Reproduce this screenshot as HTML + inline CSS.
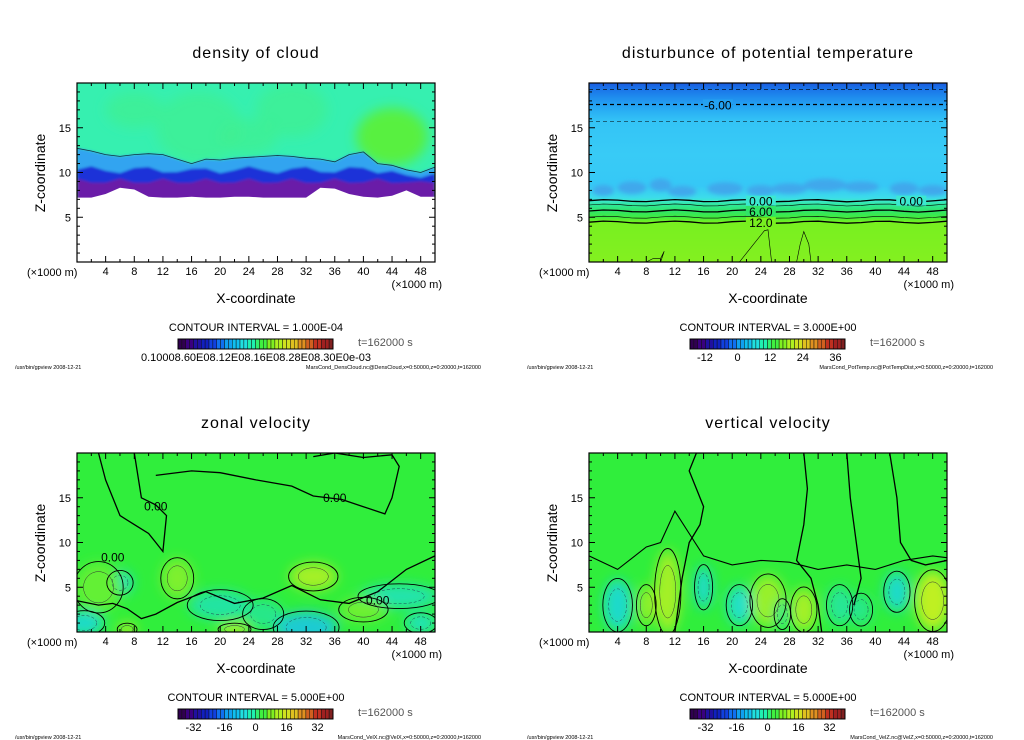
<!DOCTYPE html>
<html><head><meta charset="utf-8"><style>
html,body{margin:0;padding:0;background:#fff;}
svg{display:block;font-family:"Liberation Sans","DejaVu Sans",sans-serif;}
</style></head><body>
<svg id="root" width="1024" height="740" viewBox="0 0 1024 740" xmlns="http://www.w3.org/2000/svg">
<defs>
<filter id="blur2" x="-20%" y="-20%" width="140%" height="140%"><feGaussianBlur stdDeviation="2"/></filter>
<filter id="blur1" x="-20%" y="-20%" width="140%" height="140%"><feGaussianBlur stdDeviation="1.2"/></filter>
<filter id="blur5" x="-30%" y="-30%" width="160%" height="160%"><feGaussianBlur stdDeviation="6"/></filter>
</defs>
</svg>
<script>
// ---------- data ----------
const xTicks = [4,8,12,16,20,24,28,32,36,40,44,48];
const zTicks = [5,10,15];
const xMinor = [2,6,10,14,18,22,26,30,34,38,42,46];
const zMinor = [1,2,3,4,6,7,8,9,11,12,13,14,16,17,18,19];
const titles = ["density of cloud","disturbunce of potential temperature","zonal velocity","vertical velocity"];
const intervals = ["1.000E-04","3.000E+00","5.000E+00","5.000E+00"];
const fileTags = ["MarsCond_DensCloud.nc@DensCloud","MarsCond_PotTemp.nc@PotTempDist","MarsCond_VelX.nc@VelX","MarsCond_VelZ.nc@VelZ"];
const cbLabelsTemp = [-12,0,12,24,36];
const cbLabelsVel = [-32,-16,0,16,32];
// cloud
const cloudX = [0,2,4,6,8,10,12,14,16,18,20,22,24,26,28,30,32,34,36,38,40,42,44,46,48,50];
const cloudBase = [7.2,7.2,7.6,8.3,8.1,7.3,7.2,7.2,7.3,7.2,7.2,7.3,7.3,7.2,7.2,7.2,7.2,8.3,8.2,7.6,7.3,7.2,7.4,8.0,7.3,7.3];
const cloudTop = [12.7,12.4,12.0,11.8,12.0,12.1,12.0,11.5,11.0,11.5,11.4,11.6,11.7,11.8,11.9,11.8,11.6,11.5,11.2,12.0,12.3,11.0,10.8,10.3,10.0,10.6];
// temperature bands
const tempZ = [20,19.3,17.6,15.7,12,8.5,7.2,6.85,6.37,5.7,5.0,4.45,0];
const tempV = [-9,-8,-6,-4,-3,-3.5,-1,0,3,6,9,12,14];
const tempLineZ = [19.3,17.6,15.7,6.85,6.37,5.7,5.0,4.45];
const tempLineNeg = [1,1,1,0,0,0,0,0];
const tempLineBold = [0,1,0,1,0,1,0,1];
// zonal velocity blobs [x,z,rx,rz,value]
const uBlobX = [32,33,14,6,1,45,20,48,22,7,3,26,40];
const uBlobZ = [0.5,6.2,6,5.5,1,4,3,1,0.3,0.3,5,2,2.5];
const uBlobRx = [4,3,2,1.6,2.5,5,4,2,2,1.2,3,2.5,3];
const uBlobRz = [1.6,1.4,2,1.2,1.2,1.2,1.5,1,0.6,0.6,2.5,1.5,1.2];
const uBlobV = [-14,9,6,-12,-12,-9,-8,-10,10,10,4,-6,5];
// vertical velocity blobs
const wBlobX = [4,11,8,16,21,25,30,35,43,48,38,27];
const wBlobZ = [3,4.5,3,5,3,3.5,2.5,3,4.5,3.5,2.5,2];
const wBlobRx = [1.8,1.6,1.2,1.1,1.6,2.2,1.6,1.6,1.6,2.2,1.4,1];
const wBlobRz = [2.6,4.2,2,2.2,2,2.6,2.2,2,2,3,1.6,1.5];
const wBlobV = [-12,9,7,-12,-11,8,9,-7,-12,11,-6,-5];
// contour polylines (x km, z km)
const uZeroX = [11,16,20,25,30,33,37,40,43,44,45,44,40,36,33];
const uZeroZ = [17.5,18,17.8,17,16.3,15.2,14.8,14,13.2,15,18.5,19.8,19.5,20,19.6];
const uLowX = [0,3,5,7,9,11,14,18,22,26,30,34,38,42,46,50];
const uLowZ = [3.5,3,3.2,2.6,1.5,2,3.3,4.5,3.2,3.8,5.2,3.6,3.2,4.5,7,8.5];
const wLineX = [[30,30.5,30,29,31,32,32.5],[12,13,14,15.5,16,15,14,15,16.5,18],[36,36.5,37,37.5,38,37],[42,43,43.5,45,47,50]];
const wLineZ = [[20,16,12,8,6,3,0],[0,6,10,12,14,16,18,20,20,20],[20,15,12,9,6,3],[20,15,10,8,7.5,8]];

// ---------- helpers ----------
const NS = "http://www.w3.org/2000/svg";
const root = document.getElementById("root");
const PW = 358, PH = 179;
const panels = [[77,83],[589,83],[77,453],[589,453]];
function el(tag, attrs, parent){const e=document.createElementNS(NS,tag);for(const k in attrs)e.setAttribute(k,attrs[k]);(parent||root).appendChild(e);return e;}
function sx(p,v){return panels[p][0]+v/50*PW;}
function sz(p,v){return panels[p][1]+PH-v/20*PH;}
function lerpHex(a,b,t){const pa=[1,3,5].map(i=>parseInt(a.substr(i,2),16)),pb=[1,3,5].map(i=>parseInt(b.substr(i,2),16));return "rgb("+pa.map((c,i)=>Math.round(c+(pb[i]-c)*t)).join(",")+")";}
function cmap(v,stops){for(let i=0;i<stops.length-1;i++){if(v<=stops[i+1][0]){const t=Math.max(0,(v-stops[i][0])/(stops[i+1][0]-stops[i][0]));return lerpHex(stops[i][1],stops[i+1][1],t);}}return stops[stops.length-1][1];}
const velStops=[[-40,"#2a0060"],[-30,"#1010d0"],[-20,"#1890f0"],[-10,"#20e0c8"],[0,"#30f040"],[10,"#c0f020"],[20,"#f0f020"],[30,"#f08020"],[40,"#c02020"]];
const tempStops=[[-10,"#1a40d8"],[-7,"#1a90f0"],[-4,"#34c4f6"],[-3,"#38cbf6"],[-1,"#3cdcea"],[0,"#3ce8d0"],[3,"#30e898"],[6,"#30e468"],[9,"#40ec40"],[12,"#78f020"],[15,"#88f020"]];
const rainbow=["#300050","#3a0080","#2010a0","#1020c0","#1040e0","#1070f0","#10a0f0","#10c0f0","#20e0e0","#20f0b0","#30f070","#40f040","#80f020","#b0f020","#d0e020","#e0c020","#e09020","#d06020","#c03020","#a02020","#802020"];
function pathFrom(p,xs,zs){return xs.map((x,i)=>(i?"L":"M")+sx(p,x).toFixed(1)+","+sz(p,zs[i]).toFixed(1)).join(" ");}

// ---------- panel frame ----------
function frame(p){
  const [x0,y0]=panels[p];
  const g=el("g",{});
  
  
  el("rect",{x:x0,y:y0,width:PW,height:PH,fill:"none",stroke:"#000","stroke-width":1.2},g);
  xTicks.forEach(v=>{const X=sx(p,v);el("line",{x1:X,y1:y0+PH,x2:X,y2:y0+PH-6,stroke:"#000"},g);el("line",{x1:X,y1:y0,x2:X,y2:y0+6,stroke:"#000"},g);
    const t=el("text",{x:X,y:y0+PH+13,"font-size":11,"text-anchor":"middle"},g);t.textContent=v;
    
    });
  xMinor.forEach(v=>{const X=sx(p,v);el("line",{x1:X,y1:y0+PH,x2:X,y2:y0+PH-3,stroke:"#000"},g);el("line",{x1:X,y1:y0,x2:X,y2:y0+3,stroke:"#000"},g);});
  zTicks.forEach(v=>{const Y=sz(p,v);el("line",{x1:x0,y1:Y,x2:x0+6,y2:Y,stroke:"#000"},g);el("line",{x1:x0+PW,y1:Y,x2:x0+PW-6,y2:Y,stroke:"#000"},g);
    const t=el("text",{x:x0-6,y:Y+4,"font-size":11,"text-anchor":"end"},g);t.textContent=v;
    
    });
  zMinor.forEach(v=>{const Y=sz(p,v);el("line",{x1:x0,y1:Y,x2:x0+3,y2:Y,stroke:"#000"},g);el("line",{x1:x0+PW,y1:Y,x2:x0+PW-3,y2:Y,stroke:"#000"},g);});
  let t=el("text",{x:x0+179,y:y0-25,"font-size":16,"text-anchor":"middle","letter-spacing":"1"},g);t.textContent=titles[p];
  
  
  t=el("text",{x:x0-32,y:y0+90,"font-size":14,"text-anchor":"middle",transform:`rotate(-90 ${x0-32} ${y0+90})`},g);t.textContent="Z-coordinate";
  
  
  t=el("text",{x:x0+179,y:y0+220,"font-size":14,"text-anchor":"middle"},g);t.textContent="X-coordinate";
  
  
  t=el("text",{x:x0-50,y:y0+193,"font-size":11},g);t.textContent="(\u00d71000 m)";
  
  
  t=el("text",{x:x0+PW+7,y:y0+205,"font-size":11,"text-anchor":"end"},g);t.textContent="(\u00d71000 m)";
  
  
  const cb=el("g",{},g);
  
  
  const cbx=x0+101,cby=y0+256,cw=155,n=40;
  for(let i=0;i<n;i++){const c=rainbow[Math.floor(i/n*rainbow.length)];el("rect",{x:cbx+i*cw/n,y:cby,width:cw/n,height:10,fill:c,stroke:"#111","stroke-width":0.5},cb);}
  el("rect",{x:cbx,y:cby,width:cw,height:10,fill:"none",stroke:"#000"},cb);
  t=el("text",{x:x0+179,y:cby-8,"font-size":11,"text-anchor":"middle"},g);t.textContent="CONTOUR INTERVAL = "+intervals[p];
  
  
  t=el("text",{x:x0+281,y:cby+7,"font-size":11,fill:"#555"},g);t.textContent="t=162000 s";
  
  
  t=el("text",{x:x0-62,y:y0+286,"font-size":5.5},g);t.textContent="/usr/bin/gpview   2008-12-21";
  
  
  t=el("text",{x:x0+404,y:y0+286,"font-size":5.5,"text-anchor":"end"},g);t.textContent=fileTags[p]+",x=0:50000,z=0:20000,t=162000";
  
  
  if(p===0){t=el("text",{x:cbx+78,y:cby+22,"font-size":11,"text-anchor":"middle"},g);t.textContent="0.10008.60E08.12E08.16E08.28E08.30E0e-03";
    
    }
  else{const labs=p===1?cbLabelsTemp:cbLabelsVel;const lo=p===1?-17.5:-40,hi=p===1?39.5:40;
    labs.forEach(v=>{const tt=el("text",{x:cbx+(v-lo)/(hi-lo)*cw,y:cby+22,"font-size":11,"text-anchor":"middle"},g);tt.textContent=v;
      
      });}
}
function clipFor(p){const id="clip"+p;const c=el("clipPath",{id:id},root.querySelector("defs"));el("rect",{x:panels[p][0],y:panels[p][1],width:PW,height:PH},c);return "url(#"+id+")";}

// ---------- panel 1: cloud ----------
(function(){const p=0;const g=el("g",{"clip-path":clipFor(p)});
  
  
  el("rect",{x:sx(p,0),y:sz(p,20),width:PW,height:PH,fill:"#36f0b0"},g);
  const hz=el("g",{filter:"url(#blur5)"},g);
  [[17,15,6,4],[30,17,5,3],[8,17,4,2],[24,14,4,2]].forEach(a=>el("ellipse",{cx:sx(p,a[0]),cy:sz(p,a[1]),rx:a[2]*7.16,ry:a[3]*8.95,fill:"#40f090",opacity:0.7},hz));
  el("ellipse",{cx:sx(p,44),cy:sz(p,14),rx:5*7.16,ry:3.2*8.95,fill:"#58f040"},hz);
  const top=cloudTop.map(v=>v),xs=cloudX.slice();
  const bg=el("g",{filter:"url(#blur1)"},g);
  const band=(lo,hi,col,par)=>{const up=xs.map((x,i)=>hi(i)),dn=xs.map((x,i)=>lo(i));
    const d=pathFrom(p,xs,up)+" "+pathFrom(p,xs.slice().reverse(),dn.slice().reverse()).replace("M","L")+" Z";el("path",{d:d,fill:col},par);};
  band(i=>cloudBase[i]-0.3,i=>top[i],"#30a4f0",bg);
  band(i=>cloudBase[i]-0.3,i=>Math.min(top[i]-0.6,10.3+0.4*Math.sin(i*1.7)),"#1a30d8",bg);
  band(i=>cloudBase[i]-0.3,i=>Math.min(top[i]-1,9.0+0.3*Math.cos(i*2.1)),"#6a1aa8",bg);
  band(i=>0,i=>cloudBase[i],"#ffffff",g);
  el("path",{d:pathFrom(p,xs,cloudTop),fill:"none",stroke:"#134","stroke-width":0.8},g);
})();

// ---------- panel 2: temperature ----------
(function(){const p=1;const g=el("g",{"clip-path":clipFor(p)});
  
  
  const gid="tgrad";const lg=el("linearGradient",{id:gid,x1:0,y1:0,x2:0,y2:1},root.querySelector("defs"));
  tempZ.forEach((z,i)=>el("stop",{offset:(20-z)/20,"stop-color":cmap(tempV[i],tempStops)},lg));
  el("rect",{x:sx(p,0),y:sz(p,20),width:PW,height:PH,fill:"url(#"+gid+")"},g);
  const pz=el("g",{filter:"url(#blur2)"},g);
  [[2,8,1.5,0.6],[6,8.3,2,0.7],[10,8.6,1.5,0.7],[13,7.9,2,0.6],[19,8.2,2.5,0.7],[24,8,2,0.6],[28,8.2,2.5,0.6],[33,8.6,3,0.7],[38,8.4,2.5,0.6],[44,8.2,2,0.7],[48,8,2,0.6]].forEach(a=>
    el("ellipse",{cx:sx(p,a[0]),cy:sz(p,a[1]),rx:a[2]*7.16,ry:a[3]*8.95,fill:"#40a8ec"},pz));
  tempLineZ.forEach((z,i)=>{const xs=cloudX,zs=xs.map((x,j)=>z+(z<8?0.12*Math.sin(j*1.3):0));
    el("path",{d:pathFrom(p,xs,zs),fill:"none",stroke:"#000","stroke-width":tempLineBold[i]?1.3:0.6,"stroke-dasharray":tempLineNeg[i]?"4,3":"none"},g);});
  [["-6.00",18,17.6],["0.00",24,6.85],["0.00",45,6.85],["6.00",24,5.7],["12.0",24,4.45]].forEach(a=>{
    const X=sx(p,a[1]),Y=sz(p,a[2]);el("rect",{x:X-15,y:Y-5,width:30,height:10,fill:cmap(a[0]==="-6.00"?-6:parseFloat(a[0]),tempStops)},g);
    const t=el("text",{x:X,y:Y+5,"font-size":12,"text-anchor":"middle"},g);t.textContent=a[0];
    
    });
  el("path",{d:pathFrom(p,[8,9,10,10.5,10],[0,0.4,0.4,1.2,0]),fill:"none",stroke:"#000","stroke-width":0.6},g);
  el("path",{d:pathFrom(p,[21,23,24.5,25,25.5],[0,2,3.5,3.6,0]),fill:"none",stroke:"#000","stroke-width":0.6},g);
  el("path",{d:pathFrom(p,[29,29.5,30,30.7,31],[0,2,3.4,2,0]),fill:"none",stroke:"#000","stroke-width":0.6},g);
})();

// ---------- panels 3/4: velocities ----------
function velPanel(p,bx,bz,brx,brz,bv,name){const g=el("g",{"clip-path":clipFor(p)});
  
  
  el("rect",{x:sx(p,0),y:sz(p,20),width:PW,height:PH,fill:"#30ee3c"},g);
  const bg=el("g",{filter:"url(#blur5)"},g);
  bx.forEach((x,i)=>{const e=el("ellipse",{cx:sx(p,x),cy:sz(p,bz[i]),rx:brx[i]*7.16*1.1,ry:brz[i]*8.95*1.1,fill:cmap(bv[i]*0.9,velStops)},bg);
    
    });
  const cg=el("g",{},g);
  bx.forEach((x,i)=>{el("ellipse",{cx:sx(p,x),cy:sz(p,bz[i]),rx:brx[i]*7.16*1.15,ry:brz[i]*8.95*1.15,fill:"none",stroke:"#000","stroke-width":0.9},cg);
    el("ellipse",{cx:sx(p,x),cy:sz(p,bz[i]),rx:brx[i]*7.16*0.7,ry:brz[i]*8.95*0.7,fill:"none",stroke:bv[i]<0?"#245":"#333","stroke-width":0.5,"stroke-dasharray":bv[i]<0?"3,2":"none"},cg);});
  return g;}
(function(){const g=velPanel(2,uBlobX,uBlobZ,uBlobRx,uBlobRz,uBlobV,"zonal-velocity-field");
  el("path",{d:pathFrom(2,uZeroX,uZeroZ),fill:"none",stroke:"#000","stroke-width":1.3},g);
  el("path",{d:pathFrom(2,uLowX,uLowZ),fill:"none",stroke:"#000","stroke-width":1.3},g);
  el("path",{d:pathFrom(2,[3,4,5,6,8,10,11,12,12.5,11,9,8],[20,17,15,13,12,11,10,9,13,14.2,15,20]),fill:"none",stroke:"#000","stroke-width":1.3},g);
  [["0.00",36,15],["0.00",11,14],["0.00",5,8.3],["0.00",42,3.5]].forEach(a=>{const t=el("text",{x:sx(2,a[1]),y:sz(2,a[2])+4,"font-size":12,"text-anchor":"middle"},g);t.textContent=a[0];
    
    });
})();
(function(){const g=velPanel(3,wBlobX,wBlobZ,wBlobRx,wBlobRz,wBlobV,"vertical-velocity-field");
  wLineX.forEach((xs,i)=>el("path",{d:pathFrom(3,xs,wLineZ[i]),fill:"none",stroke:"#000","stroke-width":1.3},g));
  el("path",{d:pathFrom(3,[0,4,8,10,12,14,16,20,24,28,32,36,40,44,48,50],[8.5,7,9.5,10,13.5,11,8.5,7.5,8,7.8,7,7.5,7,8,8.5,8.3]),fill:"none",stroke:"#000","stroke-width":1.1},g);
})();

[0,1,2,3].forEach(frame);
</script>
</body></html>
